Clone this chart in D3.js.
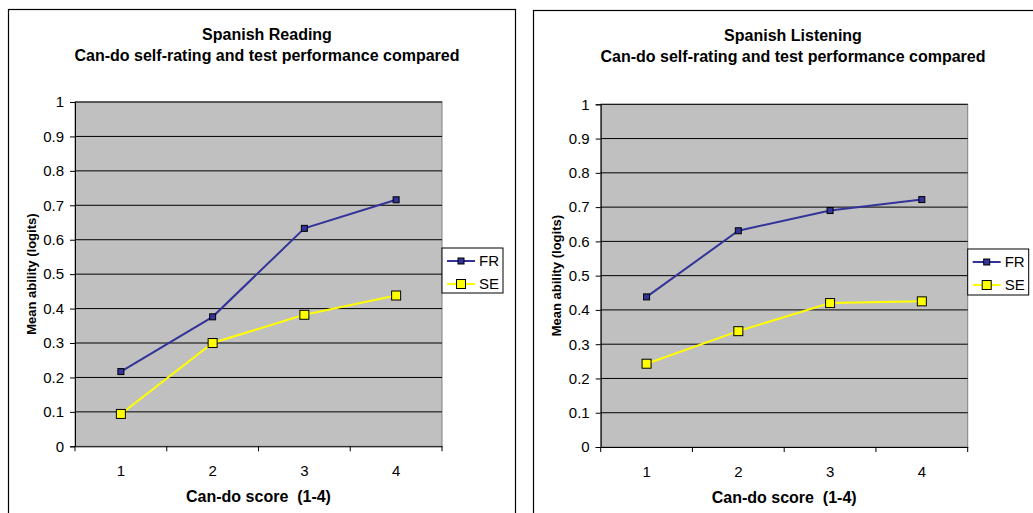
<!DOCTYPE html>
<html>
<head>
<meta charset="utf-8">
<script src="https://cdn.jsdelivr.net/npm/d3@7"></script>
<style>
  html, body { margin: 0; padding: 0; background: #fff; }
  svg { display: block; font-family: "Liberation Sans", Arial, sans-serif; }
</style>
</head>
<body>
<svg id="chart" width="1033" height="513"></svg>
<script>
const categories = ["1", "2", "3", "4"];
const yTicks = [0, 0.1, 0.2, 0.3, 0.4, 0.5, 0.6, 0.7, 0.8, 0.9, 1];
const seriesNames = ["FR", "SE"];
const readingFR = [0.217, 0.376, 0.633, 0.716];
const readingSE = [0.094, 0.300, 0.382, 0.438];
const listeningFR = [0.438, 0.631, 0.690, 0.722];
const listeningSE = [0.243, 0.338, 0.420, 0.425];
const titles = [
  ["Spanish Reading", "Can-do self-rating and test performance compared"],
  ["Spanish Listening", "Can-do self-rating and test performance compared"]
];
const xTitle = "Can-do score  (1-4)";
const yTitle = "Mean ability (logits)";

const colors = { FR: "#333399", SE: "#ffff00" };

const panels = [
  { border: [8, 9, 507, 520], plot: [75, 102, 442, 446.3], legend: [442, 248, 61, 45], titleX: 267, titleY: [40, 61],
    data: { FR: readingFR, SE: readingSE }, title: titles[0] },
  { border: [533, 10, 520, 520], plot: [600.7, 104.3, 967.7, 447], legend: [967.7, 249, 61, 46], titleX: 793, titleY: [41, 62],
    data: { FR: listeningFR, SE: listeningSE }, title: titles[1] }
];

const svg = d3.select("#chart");
const FONT = "'Liberation Sans', Arial, sans-serif";

panels.forEach(p => {
  const g = svg.append("g");
  const [bx, by, bw, bh] = p.border;
  g.append("rect").attr("x", bx + 0.5).attr("y", by + 0.5).attr("width", bw).attr("height", bh)
    .attr("fill", "#fff").attr("stroke", "#000").attr("stroke-width", 1.2);

  const [pl, pt, pr, pb] = p.plot;
  const x = d3.scaleBand().domain(categories).range([pl, pr]);
  const y = d3.scaleLinear().domain([0, 1]).range([pb, pt]);

  g.append("rect").attr("x", pl).attr("y", pt).attr("width", pr - pl).attr("height", pb - pt)
    .attr("fill", "#c0c0c0").attr("stroke", "#808080").attr("stroke-width", 1);

  // gridlines
  g.append("g").selectAll("line").data(yTicks.filter(d => d > 0)).join("line")
    .attr("x1", pl).attr("x2", pr).attr("y1", d => y(d)).attr("y2", d => y(d))
    .attr("stroke", "#000").attr("stroke-width", 1);

  // y axis
  const yAxis = g.append("g").attr("transform", `translate(${pl},0)`)
    .call(d3.axisLeft(y).tickValues(yTicks).tickSize(5).tickPadding(6).tickFormat(d => d3.format("")(d)));
  yAxis.attr("font-size", 15).attr("font-family", FONT);
  yAxis.select(".domain").attr("stroke", "#000");
  yAxis.selectAll("text").attr("font-size", 15).attr("fill", "#000");

  // x axis with ticks at band edges
  const xAxis = g.append("g").attr("transform", `translate(0,${pb})`)
    .call(d3.axisBottom(x).tickSize(0).tickPadding(19));
  xAxis.attr("font-size", 15).attr("font-family", FONT);
  xAxis.select(".domain").attr("stroke", "#000");
  xAxis.selectAll("text").attr("font-size", 15).attr("fill", "#000");
  const edges = categories.map(c => x(c)).concat([x(categories[categories.length - 1]) + x.bandwidth()]);
  g.append("g").selectAll("line").data(edges).join("line")
    .attr("x1", d => d).attr("x2", d => d).attr("y1", pb).attr("y2", pb + 5)
    .attr("stroke", "#000");

  // titles
  p.title.forEach((t, i) => {
    g.append("text").attr("x", p.titleX).attr("y", p.titleY[i]).attr("text-anchor", "middle")
      .attr("font-size", 16).attr("font-weight", "bold").text(t);
  });
  g.append("text").attr("x", (pl + pr) / 2).attr("y", pb + 56).attr("text-anchor", "middle")
    .attr("font-size", 16).attr("font-weight", "bold").attr("xml:space", "preserve").text(xTitle);
  g.append("text").attr("transform", `translate(${pl - 39.5},${(pt + pb) / 2}) rotate(-90)`)
    .attr("text-anchor", "middle").attr("font-size", 13).attr("font-weight", "bold").text(yTitle);

  // series
  const line = d3.line().x((d, i) => x(categories[i]) + x.bandwidth() / 2).y(d => y(d));
  seriesNames.forEach(s => {
    const vals = p.data[s];
    g.append("path").datum(vals).attr("d", line).attr("fill", "none")
      .attr("stroke", colors[s]).attr("stroke-width", 2);
    const size = s === "FR" ? 6 : 9;
    g.append("g").selectAll("rect").data(vals).join("rect")
      .attr("x", (d, i) => x(categories[i]) + x.bandwidth() / 2 - size / 2)
      .attr("y", d => y(d) - size / 2)
      .attr("width", size).attr("height", size)
      .attr("fill", colors[s]).attr("stroke", "#000").attr("stroke-width", 1);
  });

  // legend
  const [lx, ly, lw, lh] = p.legend;
  const lg = g.append("g");
  lg.append("rect").attr("x", lx).attr("y", ly).attr("width", lw).attr("height", lh)
    .attr("fill", "#fff").attr("stroke", "#000").attr("stroke-width", 1);
  seriesNames.forEach((s, i) => {
    const cy = ly + 13 + i * 23;
    lg.append("line").attr("x1", lx + 5).attr("x2", lx + 33).attr("y1", cy).attr("y2", cy)
      .attr("stroke", colors[s]).attr("stroke-width", 2);
    const size = s === "FR" ? 6 : 9;
    lg.append("rect").attr("x", lx + 19 - size / 2).attr("y", cy - size / 2).attr("width", size).attr("height", size)
      .attr("fill", colors[s]).attr("stroke", "#000").attr("stroke-width", 1);
    lg.append("text").attr("x", lx + 37).attr("y", cy + 5).attr("font-size", 15).text(s);
  });
});
</script>
</body>
</html>
